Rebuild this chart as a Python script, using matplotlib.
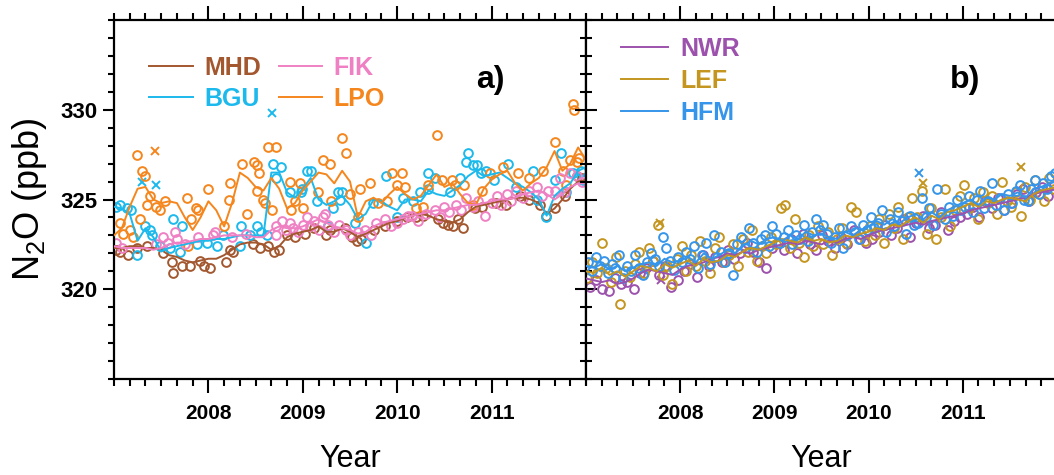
import matplotlib
matplotlib.use("Agg")
import matplotlib.pyplot as plt
import numpy as np
from matplotlib.ticker import MultipleLocator

plt.rcParams['font.family'] = ['Liberation Sans', 'DejaVu Sans']
plt.rcParams['mathtext.fontset'] = 'custom'
plt.rcParams['mathtext.rm'] = 'Liberation Sans'
plt.rcParams['mathtext.it'] = 'Liberation Sans'

# ---------------- data ----------------
# smoothed curves, one value per month from 2007.0 to 2012.0
mhd_line = [322.3, 322.3, 322.4, 322.4, 322.3, 322.3, 322.2, 321.9, 321.8, 321.6, 321.5, 321.6,
            321.7, 321.7, 321.9, 322.2, 322.5, 322.6, 322.6, 322.5, 322.2, 322.4, 322.9, 323.1,
            323.2, 323.3, 323.5, 323.2, 323.2, 323.4, 323.2, 322.9, 323.1, 323.3, 323.5, 323.7,
            323.8, 324.0, 324.1, 324.2, 324.1, 323.9, 323.8, 323.7, 323.9, 324.3, 324.6, 324.7,
            324.8, 324.9, 325.0, 325.1, 325.1, 325.0, 324.8, 324.2, 324.5, 325.0, 325.6, 326.0,
            326.1]
bgu_line = [324.6, 324.5, 324.2, 322.7, 323.4, 322.9, 322.1, 322.3, 322.4, 322.5, 322.6, 322.7,
            322.7, 322.8, 322.8, 322.9, 323.0, 323.0, 323.0, 323.0, 326.5, 326.5, 325.4, 325.1,
            325.6, 326.2, 325.0, 324.7, 324.9, 325.2, 324.7, 323.9, 324.2, 325.0, 324.9, 324.6,
            324.4, 325.0, 325.0, 324.9, 325.5, 325.3, 325.2, 325.5, 325.8, 326.3, 326.6, 326.3,
            326.4, 326.5, 326.2, 325.9, 325.7, 325.4, 325.0, 324.1, 325.2, 325.6, 325.9, 326.6,
            326.8]
fik_line = [322.4, 322.3, 322.3, 322.3, 322.3, 322.2, 322.3, 322.5, 322.6, 322.6, 322.7, 322.8,
            322.8, 322.9, 323.0, 323.0, 323.0, 323.0, 322.9, 322.9, 323.3, 323.5, 323.4, 323.4,
            323.5, 323.7, 323.9, 323.7, 323.5, 323.4, 323.3, 323.1, 323.2, 323.5, 323.7, 323.8,
            323.9, 324.0, 324.1, 324.2, 324.3, 324.4, 324.4, 324.5, 324.6, 324.7, 324.7, 324.8,
            324.9, 325.0, 325.0, 325.1, 325.3, 325.4, 325.5, 325.3, 325.0, 325.3, 325.7, 325.9,
            325.9]
lpo_line = [323.0, 323.4, 324.6, 325.6, 325.7, 325.0, 324.8, 324.9, 324.8, 324.0, 323.3, 324.0,
            324.9, 324.4, 323.5, 324.8, 326.5, 326.2, 325.7, 325.5, 326.2, 325.6, 324.5, 324.8,
            325.5, 326.0, 326.5, 326.4, 325.9, 326.6, 326.0, 324.0, 324.9, 325.1, 324.8, 325.3,
            325.7, 325.3, 325.0, 325.2, 325.8, 326.4, 325.7, 325.9, 325.3, 324.8, 324.7, 325.6,
            326.1, 326.4, 326.6, 325.9, 325.5, 325.9, 326.2, 326.8, 327.7, 326.6, 327.0, 327.9,
            327.2]

nwr_line = [320.6, 320.5, 320.4, 320.5, 320.3, 320.4, 320.6, 320.9, 321.1, 321.0, 320.9, 320.8,
            321.1, 321.3, 321.4, 321.5, 321.7, 321.8, 322.0, 321.9, 322.1, 322.0, 322.2, 322.3,
            322.4, 322.5, 322.6, 322.5, 322.7, 322.6, 322.5, 322.7, 322.6, 322.8, 322.9, 322.8,
            323.0, 323.2, 323.3, 323.4, 323.5, 323.6, 323.7, 323.6, 323.8, 323.9, 324.0, 324.1,
            324.2, 324.4, 324.5, 324.6, 324.7, 324.8, 324.9, 325.0, 325.1, 325.3, 325.4, 325.5,
            325.6]
lef_line = [321.0, 320.9, 321.2, 320.8, 321.0, 320.7, 321.0, 321.3, 321.2, 321.0, 321.4, 321.2,
            321.4, 321.6, 321.3, 321.7, 321.5, 321.6, 321.9, 321.8, 322.1, 322.3, 322.2, 322.4,
            322.6, 322.8, 322.7, 322.6, 322.9, 322.7, 322.8, 322.6, 322.7, 323.0, 322.9, 323.1,
            323.2, 323.4, 323.3, 323.6, 323.5, 323.8, 324.0, 323.7, 324.1, 323.9, 324.3, 324.4,
            324.6, 324.8, 324.6, 324.9, 324.8, 325.0, 325.1, 325.0, 324.9, 325.3, 325.5, 325.6,
            325.7]
hfm_line = [321.3, 321.2, 321.4, 321.1, 321.3, 321.0, 321.2, 321.4, 321.5, 321.3, 321.7, 321.5,
            321.6, 321.8, 321.5, 322.0, 321.7, 321.9, 322.2, 322.0, 322.4, 322.7, 322.5, 322.8,
            322.9, 322.7, 323.0, 322.8, 323.2, 323.0, 323.1, 322.9, 322.8, 323.2, 323.0, 323.3,
            323.5, 323.8, 323.6, 323.9, 323.7, 324.0, 324.2, 323.9, 324.3, 324.0, 324.4, 324.6,
            324.8, 325.0, 324.7, 325.1, 325.0, 325.3, 325.2, 325.4, 325.1, 325.6, 325.7, 325.9,
            326.0]

# observations panel a: (decimal year, ppb)
mhd_obs = [(2007.02, 322.2), (2007.06, 322.1), (2007.15, 321.9), (2007.24, 322.3), (2007.35, 322.4),
           (2007.52, 322.0), (2007.61, 321.5), (2007.63, 320.9), (2007.72, 321.3), (2007.80, 321.3),
           (2007.91, 321.6), (2007.95, 321.3), (2008.02, 321.2), (2008.19, 321.5), (2008.23, 322.2),
           (2008.26, 322.1), (2008.47, 322.5), (2008.55, 322.3), (2008.63, 322.4), (2008.69, 322.1),
           (2008.75, 322.2), (2008.83, 323.0), (2008.92, 322.9), (2009.02, 323.1), (2009.12, 323.4),
           (2009.25, 323.0), (2009.29, 323.3), (2009.45, 323.4), (2009.52, 322.9), (2009.57, 322.7),
           (2009.62, 322.8), (2009.75, 323.3), (2009.87, 323.5), (2010.00, 323.8), (2010.10, 324.0),
           (2010.20, 324.0), (2010.27, 324.1), (2010.43, 323.9), (2010.48, 323.7), (2010.54, 323.6),
           (2010.59, 323.5), (2010.64, 323.9), (2010.70, 323.4), (2010.82, 324.5), (2010.90, 324.6),
           (2011.05, 324.8), (2011.15, 324.7), (2011.30, 325.2), (2011.40, 325.0), (2011.51, 324.7),
           (2011.58, 324.1), (2011.67, 324.5), (2011.78, 325.2), (2011.90, 326.3), (2011.96, 326.2)]
bgu_obs = [(2007.02, 324.6), (2007.06, 324.7), (2007.14, 324.5), (2007.18, 324.4), (2007.24, 321.9),
           (2007.33, 323.5), (2007.38, 323.3), (2007.40, 323.0), (2007.49, 322.4), (2007.59, 322.3),
           (2007.62, 323.9), (2007.70, 322.1), (2007.72, 323.5), (2007.88, 322.5), (2007.98, 322.6),
           (2008.09, 322.4), (2008.15, 323.0), (2008.33, 322.4), (2008.35, 323.5), (2008.44, 323.0),
           (2008.51, 323.5), (2008.56, 323.2), (2008.62, 323.0), (2008.68, 327.0), (2008.72, 326.2),
           (2008.77, 326.8), (2008.86, 325.4), (2008.98, 325.4), (2008.99, 325.6), (2009.04, 326.6),
           (2009.09, 326.6), (2009.15, 324.9), (2009.27, 323.5), (2009.32, 324.5), (2009.37, 325.4),
           (2009.39, 325.0), (2009.41, 325.4), (2009.55, 323.7), (2009.67, 322.6), (2009.74, 324.8),
           (2009.88, 326.3), (2010.00, 324.0), (2010.06, 325.1), (2010.17, 324.9), (2010.24, 325.4),
           (2010.33, 326.5), (2010.33, 325.6), (2010.40, 326.2), (2010.56, 325.4), (2010.66, 326.2),
           (2010.73, 327.1), (2010.75, 327.6), (2010.80, 326.9), (2010.85, 326.9), (2010.89, 326.5),
           (2010.94, 326.6), (2011.03, 326.1), (2011.17, 327.0), (2011.26, 325.7), (2011.44, 326.6),
           (2011.48, 325.0), (2011.58, 324.0), (2011.67, 326.1), (2011.74, 327.6), (2011.79, 325.4),
           (2011.86, 326.5), (2011.95, 326.6), (2011.97, 326.1)]
fik_obs = [(2007.02, 322.6), (2007.08, 322.3), (2007.45, 322.5), (2007.52, 322.9), (2007.57, 322.6),
           (2007.65, 323.2), (2007.67, 322.8), (2007.75, 322.5), (2007.89, 322.9), (2008.05, 323.0),
           (2008.07, 323.2), (2008.25, 322.9), (2008.40, 323.1), (2008.72, 323.0), (2008.72, 323.5),
           (2008.78, 323.8), (2008.82, 323.3), (2008.86, 323.7), (2008.90, 323.4), (2008.95, 323.2),
           (2009.00, 323.6), (2009.04, 324.0), (2009.08, 323.5), (2009.12, 323.8), (2009.17, 323.3),
           (2009.21, 324.0), (2009.23, 324.2), (2009.27, 323.6), (2009.33, 323.2), (2009.38, 323.6),
           (2009.46, 323.3), (2009.50, 323.0), (2009.58, 323.2), (2009.66, 323.3), (2009.72, 323.0),
           (2009.78, 323.7), (2009.87, 323.9), (2009.93, 323.5), (2010.00, 323.7), (2010.06, 323.9),
           (2010.11, 324.1), (2010.16, 324.1), (2010.22, 323.8), (2010.31, 324.2), (2010.40, 324.4),
           (2010.45, 324.0), (2010.50, 324.6), (2010.55, 324.3), (2010.62, 324.7), (2010.68, 324.4),
           (2010.73, 325.1), (2010.80, 324.6), (2010.86, 324.9), (2010.93, 324.1), (2011.00, 324.8),
           (2011.06, 325.2), (2011.10, 324.7), (2011.16, 325.3), (2011.21, 324.9), (2011.26, 325.5),
           (2011.33, 325.1), (2011.40, 325.5), (2011.48, 325.7), (2011.53, 325.2), (2011.60, 325.5),
           (2011.67, 325.5), (2011.72, 326.2), (2011.78, 325.4), (2011.83, 326.5), (2011.90, 326.3),
           (2011.96, 326.0)]
lpo_obs = [(2007.06, 323.7), (2007.10, 323.1), (2007.17, 323.3), (2007.20, 322.9), (2007.24, 327.5),
           (2007.28, 323.9), (2007.30, 326.6), (2007.33, 326.3), (2007.35, 324.7), (2007.38, 325.2),
           (2007.45, 324.6), (2007.49, 324.4), (2007.54, 324.9), (2007.77, 325.1), (2007.78, 322.4),
           (2007.82, 323.9), (2007.87, 324.5), (2007.89, 324.4), (2008.00, 325.6), (2008.17, 323.5),
           (2008.22, 325.0), (2008.23, 325.9), (2008.36, 327.0), (2008.41, 324.2), (2008.48, 327.1),
           (2008.51, 326.9), (2008.54, 326.5), (2008.52, 325.5), (2008.58, 325.0), (2008.60, 324.8),
           (2008.63, 327.9), (2008.67, 324.4), (2008.72, 327.9), (2008.86, 326.0), (2008.88, 324.4),
           (2008.92, 324.9), (2008.97, 325.9), (2009.00, 324.5), (2009.16, 325.4), (2009.21, 327.2),
           (2009.29, 327.0), (2009.30, 324.9), (2009.41, 328.4), (2009.46, 327.6), (2009.50, 325.3),
           (2009.58, 324.0), (2009.61, 325.6), (2009.71, 325.9), (2009.80, 324.8), (2009.89, 324.9),
           (2009.94, 326.5), (2010.00, 325.8), (2010.05, 326.5), (2010.08, 325.7), (2010.20, 324.5),
           (2010.27, 324.6), (2010.33, 325.8), (2010.42, 328.6), (2010.47, 326.1), (2010.58, 326.1),
           (2010.61, 325.8), (2010.71, 325.8), (2010.80, 324.7), (2010.90, 325.5), (2010.98, 326.5),
           (2011.12, 326.8), (2011.28, 326.5), (2011.40, 326.2), (2011.54, 326.6), (2011.67, 328.2),
           (2011.76, 326.6), (2011.79, 325.8), (2011.83, 327.2), (2011.86, 330.3), (2011.87, 330.0),
           (2011.90, 327.1), (2011.93, 327.3)]

# flagged points (x markers)
bgu_flag = [(2007.30, 326.0), (2007.45, 325.8), (2008.67, 329.8)]
lpo_flag = [(2007.43, 327.7)]

# observations panel b, regular sampling from 2007.0
hfm_obs = [321.5, 321.0, 321.8, 321.3, 321.6, 320.9, 321.4, 321.2, 321.9, 320.6, 321.3, 321.0,
           321.9, 321.2, 320.8, 321.5, 322.0, 321.7, 321.3, 322.9, 322.3, 321.6, 321.1, 321.8,
           321.5, 322.1, 321.7, 322.4, 321.2, 321.9, 322.6, 321.4, 323.0, 321.8, 322.1, 321.5,
           322.0, 320.8, 322.5, 322.9, 322.3, 323.4, 322.6, 322.1, 322.8, 323.0, 322.4, 323.5,
           323.1, 322.6, 322.9, 323.3, 322.5, 323.0, 322.8, 323.6, 322.7, 323.2, 323.9, 323.3,
           323.6, 323.1, 322.6, 322.9, 323.4, 322.3, 323.0, 323.5, 323.2, 322.8, 323.6, 323.3,
           324.0, 323.4, 323.7, 324.4, 323.2, 323.9, 323.5, 324.3, 323.8, 323.1, 324.1, 323.6,
           323.7, 325.1, 324.0, 324.5, 323.6, 325.6, 324.2, 323.9, 324.6, 324.1, 325.0, 324.4,
           324.6, 325.2, 324.3, 325.0, 325.5, 324.5, 324.9, 325.9, 324.7, 325.1, 324.4, 325.3,
           324.8, 325.5, 325.8, 325.0, 324.9, 325.6, 326.1, 325.3, 325.9, 325.6, 326.3, 326.5]
lef_obs = [320.6, 321.5, 320.9, 322.6, 321.2, 320.4, 321.8, 319.2, 321.0, 320.7,
           321.4, 322.1, 320.9, 322.3, 321.6, 323.6, 320.8, 321.3, 320.3, 321.7,
           322.4, 321.0, 321.9, 321.3, 322.7, 321.6, 320.9, 322.3, 322.9, 321.5,
           321.9, 322.5, 321.3, 322.8, 322.1, 323.3, 321.6, 322.4, 322.0, 322.9,
           322.5, 324.5, 324.7, 322.3, 323.9, 322.6, 321.8, 323.0, 322.4, 323.5,
           322.5, 323.2, 321.9, 322.8, 323.4, 322.6, 324.6, 324.3, 323.1, 322.7,
           323.5, 323.0, 323.9, 322.6, 324.2, 323.4, 324.6, 322.8, 324.0, 325.1,
           324.0, 325.5, 323.1, 324.5, 322.8, 324.0, 325.6, 323.5, 324.4, 325.2,
           325.8, 324.5, 325.1, 323.9, 325.4, 324.8, 325.2, 324.2, 326.0, 324.9,
           324.6, 325.4, 324.1, 325.7, 325.0, 326.1, 325.3, 324.9, 326.2, 325.6]
nwr_obs = [320.1, 320.5, 320.0, 319.9, 320.6, 320.3, 320.4, 320.0, 320.9, 321.2, 321.6, 320.8, 321.3, 320.1, 320.5,
           321.0, 321.4, 320.7, 321.9, 321.3, 321.8, 321.5, 322.2, 321.7, 322.0, 322.6, 322.1, 321.5, 321.2, 322.3,
           322.6, 322.2, 322.8, 322.0, 323.1, 322.5, 322.2, 323.0, 322.7, 322.3, 322.9, 322.5, 323.3, 322.8, 322.6,
           322.8, 323.2, 323.6, 323.0, 323.4, 323.9, 322.9, 323.7, 324.1, 323.4, 323.6, 324.3, 323.3, 323.8, 324.0,
           324.2, 324.6, 324.0, 324.9, 324.5, 325.1, 324.4, 324.8, 325.3, 325.6, 324.9, 325.4, 325.7, 325.2, 325.8]

hfm_flag = [(2010.53, 326.5)]
lef_flag = [(2007.79, 323.7), (2010.58, 325.9), (2011.62, 326.8)]
nwr_flag = [(2007.80, 320.5)]

colors = {'MHD': '#a3572f', 'BGU': '#1cb9ec', 'FIK': '#ef80c3', 'LPO': '#f5861d',
          'NWR': '#9c52ad', 'LEF': '#c4961f', 'HFM': '#3595ea'}

# ---------------- figure ----------------
fig = plt.figure(figsize=(10.54, 4.75), dpi=100)
ax_a = fig.add_axes([114 / 1054, 1 - 379 / 475, 472 / 1054, 359 / 475])
ax_b = fig.add_axes([586 / 1054, 1 - 379 / 475, 471 / 1054, 359 / 475])

months = 2007 + np.arange(61) / 12.0


def draw(ax, name, line, obs_t, obs_y, flags):
    c = colors[name]
    ax.plot(obs_t, obs_y, 'o', mfc='none', mec=c, ms=6.3, mew=1.4, zorder=2)
    for t, y in flags:
        ax.plot(t, y, 'x', color=c, ms=6, mew=1.4, zorder=2)
    ln, = ax.plot(months, line, '-', color=c, lw=1.4, zorder=3)
    return ln


def split(pairs):
    arr = np.array(pairs)
    return arr[:, 0], arr[:, 1]


handles = {}
for name, line, obs, flags in [('MHD', mhd_line, mhd_obs, []),
                               ('BGU', bgu_line, bgu_obs, bgu_flag),
                               ('LPO', lpo_line, lpo_obs, lpo_flag),
                               ('FIK', fik_line, fik_obs, [])]:
    t, y = split(obs)
    handles[name] = draw(ax_a, name, line, t, y, flags)

t_hfm = 2007 + (np.arange(len(hfm_obs)) + 0.5) / 24.0
t_lef = 2007 + (np.arange(len(lef_obs)) + 0.3) / 20.0
t_nwr = 2007 + (np.arange(len(nwr_obs)) + 0.6) / 15.0
handles['NWR'] = draw(ax_b, 'NWR', nwr_line, t_nwr, nwr_obs, nwr_flag)
handles['LEF'] = draw(ax_b, 'LEF', lef_line, t_lef, lef_obs, lef_flag)
handles['HFM'] = draw(ax_b, 'HFM', hfm_line, t_hfm, hfm_obs, hfm_flag)

for ax in (ax_a, ax_b):
    ax.set_xlim(2007, 2012)
    ax.set_ylim(315, 335)
    ax.xaxis.set_minor_locator(MultipleLocator(1 / 6.0))
    ax.yaxis.set_minor_locator(MultipleLocator(1))
    ax.set_xticks([2008, 2009, 2010, 2011])
    ax.tick_params(axis='x', which='both', direction='out', top=True, bottom=True,
                   labelsize=15, width=1.5, pad=8)
    ax.tick_params(axis='x', which='major', length=10)
    ax.tick_params(axis='x', which='minor', length=5)
    for lab in ax.get_xticklabels():
        lab.set_fontweight('bold')
    for sp in ax.spines.values():
        sp.set_linewidth(1.6)
    ax.set_xlabel('Year', fontsize=22, labelpad=15)

ax_a.set_yticks([320, 325, 330])
ax_a.tick_params(axis='y', which='both', direction='out', left=True, right=False,
                 labelsize=16, width=1.5, pad=4)
ax_a.tick_params(axis='y', which='major', length=8)
ax_a.tick_params(axis='y', which='minor', length=4)
for lab in ax_a.get_yticklabels():
    lab.set_fontweight('bold')
ax_a.set_ylabel('N$_2$O (ppb)', fontsize=26, labelpad=8)

ax_b.set_yticks([320, 325, 330])
ax_b.tick_params(axis='y', which='both', direction='inout', left=True, right=False,
                 labelleft=False, width=1.5)
ax_b.tick_params(axis='y', which='major', length=16)
ax_b.tick_params(axis='y', which='minor', length=8)
ax_b.spines['right'].set_visible(False)

ax_a.legend([handles['MHD'], handles['BGU'], handles['FIK'], handles['LPO']],
            ['MHD', 'BGU', 'FIK', 'LPO'], ncol=2, loc='upper left',
            bbox_to_anchor=(0.075, 0.9), frameon=False, borderpad=0,
            borderaxespad=0, handlelength=1.75, handletextpad=0.45,
            columnspacing=0.7, labelspacing=0.28, labelcolor='linecolor',
            prop={'weight': 'bold', 'size': 18})
ax_b.legend([handles['NWR'], handles['LEF'], handles['HFM']],
            ['NWR', 'LEF', 'HFM'], loc='upper left',
            bbox_to_anchor=(0.075, 0.952), frameon=False, borderpad=0,
            borderaxespad=0, handlelength=1.85, handletextpad=0.5,
            labelspacing=0.32, labelcolor='linecolor',
            prop={'weight': 'bold', 'size': 18})

ax_a.text(0.797, 0.833, 'a)', transform=ax_a.transAxes, fontsize=23,
          fontweight='bold', ha='center', va='center')
ax_b.text(0.805, 0.833, 'b)', transform=ax_b.transAxes, fontsize=23,
          fontweight='bold', ha='center', va='center')

fig.savefig('out.png', dpi=100)
